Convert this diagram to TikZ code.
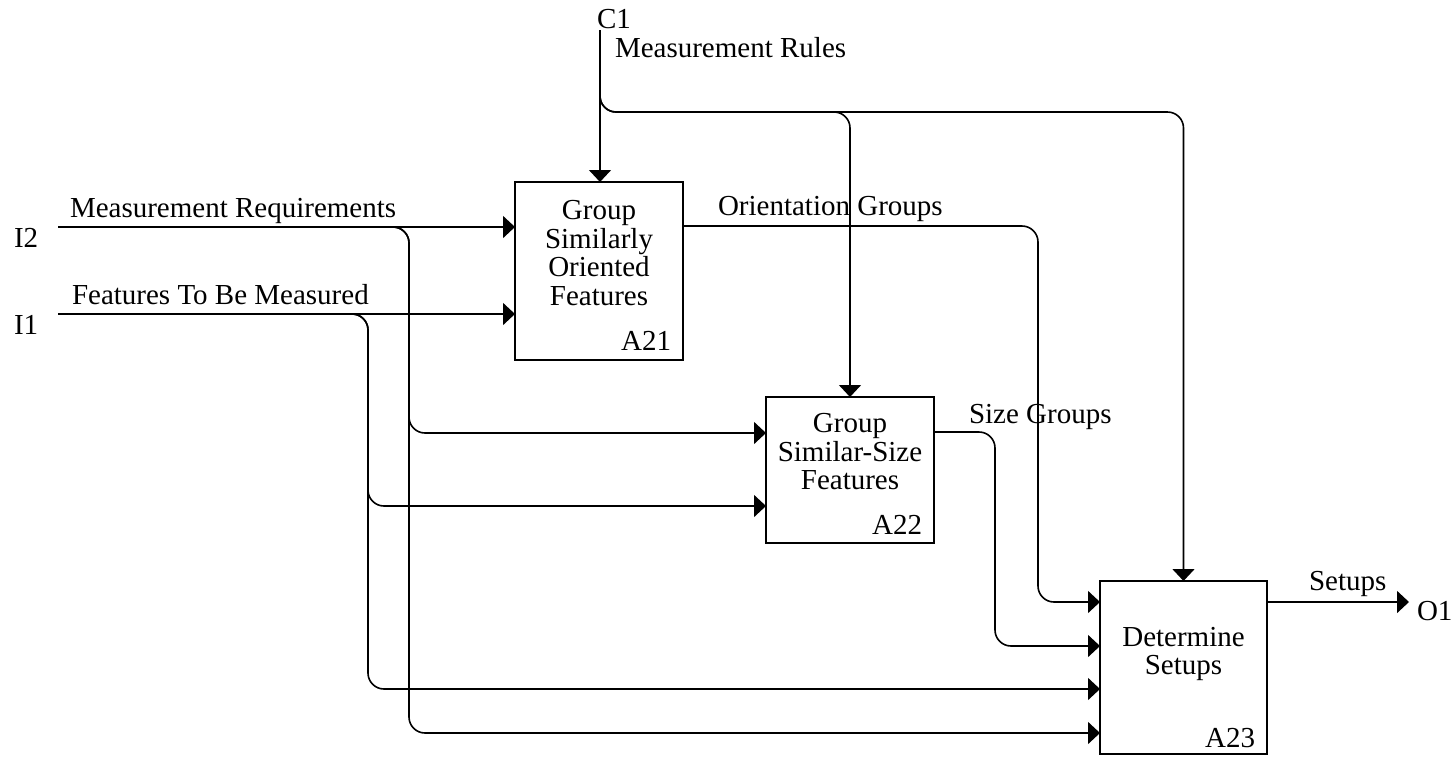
\documentclass[tikz,border=0pt]{standalone}
\usepackage{fontspec}
\setmainfont{Liberation Serif}
\usetikzlibrary{arrows.meta,calc}

\begin{document}
\begin{tikzpicture}[x=1pt,y=-1pt,
  every node/.style={font=\fontsize{29}{28.5}\selectfont, inner sep=0pt, outer sep=0pt},
  actbox/.style={draw, line width=1.8pt, inner sep=0pt},
  flow/.style={line width=1.6pt, -{Triangle[length=12pt,width=22pt]}},
  link/.style={flow, rounded corners=16pt},
  btext/.style={align=center, anchor=north},
  boxid/.style={anchor=base east}
]
\useasboundingbox (0,0) rectangle (1454,756);

% activity boxes
\node[actbox, minimum width=168pt, minimum height=178pt] (a21) at (599,271) {};
\node[actbox, minimum width=168pt, minimum height=146pt] (a22) at (850,470) {};
\node[actbox, minimum width=167pt, minimum height=173pt] (a23) at (1183.5,667.5) {};

\node[btext] (a21t) at (599,200.5) {Group\\Similarly\\Oriented\\Features};
\node[btext] (a22t) at (850,413.5) {Group\\Similar-Size\\Features};
\node[btext] (a23t) at (1183.5,627) {Determine\\Setups};

\node[boxid] (a21id) at ($(a21.south east)+(-12,-10)$) {A21};
\node[boxid] (a22id) at ($(a22.south east)+(-12,-9)$) {A22};
\node[boxid] (a23id) at ($(a23.south east)+(-12,-7)$) {A23};

% boundary arrow ends and branch points
\coordinate (i2s) at (58,227);
\coordinate (i1s) at (58,314);
\coordinate (c1s) at (600,30);
\coordinate (o1e) at (1409,602);
\coordinate (i2j) at (409,227);
\coordinate (i1j) at (368,314);
\coordinate (c1j) at (600,112);

% boundary labels
\node[anchor=base west] (i2l) at (14,247) {I2};
\node[anchor=base west] (i1l) at (14,334) {I1};
\node[anchor=base west] (c1l) at (597,28) {C1};
\node[anchor=base west] (o1l) at (1417,620) {O1};

% arrow labels
\node[anchor=base west] (mreq) at (70,217) {Measurement Requirements};
\node[anchor=base west] (ftbm) at (72,304) {Features To Be Measured};
\node[anchor=base west] (mrul) at (615,57) {Measurement Rules};
\node[anchor=base west] (orgr) at (718,215) {Orientation Groups};
\node[anchor=base west] (szgr) at (969,423) {Size Groups};
\node[anchor=base west] (stps) at (1309,590) {Setups};

% inputs
\draw[flow] (i2s) -- (a21.west |- i2s);
\draw[flow] (i1s) -- (a21.west |- i1s);
\draw[link] (i2s) -- (i2j) -- (i2j |- 0,433) -- (a22.west |- 0,433);
\draw[link] (i2s) -- (i2j) -- (i2j |- 0,733) -- (a23.west |- 0,733);
\draw[link] (i1s) -- (i1j) -- (i1j |- 0,506) -- (a22.west |- 0,506);
\draw[link] (i1s) -- (i1j) -- (i1j |- 0,689) -- (a23.west |- 0,689);

% control
\draw[flow] (c1s) -- (c1s |- a21.north);
\draw[link] (c1s) -- (c1j) -- (c1j -| a22.north) -- (a22.north);
\draw[link] (c1s) -- (c1j) -- (c1j -| a23.north) -- (a23.north);

% internal flows
\draw[link] (a21.east |- 0,226) -- (1038,226) -- (1038,602) -- (a23.west |- 0,602);
\draw[link] (a22.east |- 0,432) -- (995,432) -- (995,646) -- (a23.west |- 0,646);

% output
\draw[flow] (a23.east |- o1e) -- (o1e);
\end{tikzpicture}
\end{document}
